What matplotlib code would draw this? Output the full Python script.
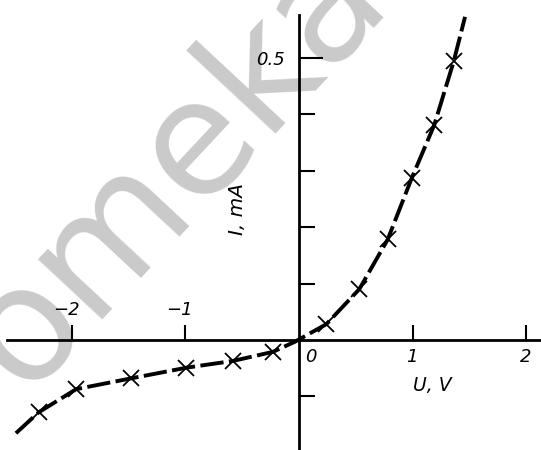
import matplotlib
matplotlib.use("Agg")
import matplotlib.pyplot as plt

# measured points of the I-V curve (U in volts, I in mA)
u_pts = [-2.29, -1.96, -1.48, -0.99, -0.58, -0.23, 0.24, 0.53, 0.78, 0.99, 1.19, 1.36]
i_pts = [-0.128, -0.087, -0.068, -0.049, -0.037, -0.021, 0.028, 0.090, 0.178, 0.286, 0.381, 0.493]

# where the drawn curve starts, crosses near the origin, and ends
u_start, i_start = -2.49, -0.165
u_cross, i_cross = -0.035, -0.003
u_end, i_end = 1.46, 0.572

x_ticks = [-2, -1, 1, 2]
x_tick_labels = ["\u22122", "\u22121", "1", "2"]
y_minor_ticks = [-0.1, 0.1, 0.2, 0.3, 0.4]
y_major_ticks = [0.5]
y_tick_labels = ["0.5"]

line_u = [u_start] + u_pts[:6] + [u_cross] + u_pts[6:] + [u_end]
line_i = [i_start] + i_pts[:6] + [i_cross] + i_pts[6:] + [i_end]

fig = plt.figure(figsize=(5.41, 4.5), dpi=100)
ax = fig.add_axes([0, 0, 1, 1])
ax.set_xlim(-2.630, 2.128)
ax.set_ylim(-0.1947, 0.6018)

# watermark in the background
ax.text(0.044, 0.124, "omeka", transform=ax.transAxes, rotation=47,
        rotation_mode="anchor", ha="left", va="baseline",
        fontsize=115, color="#cacaca", zorder=0)

# axes crossing at the origin
for side in ["top", "right"]:
    ax.spines[side].set_visible(False)
ax.spines["left"].set_position(("data", 0))
ax.spines["bottom"].set_position(("data", 0))
ax.spines["left"].set_bounds(-0.1947, 0.575)
ax.spines["bottom"].set_bounds(-2.566, 2.128)
for side in ["left", "bottom"]:
    ax.spines[side].set_linewidth(2.0)
    ax.spines[side].set_zorder(3)

ax.set_xticks(x_ticks)
ax.set_xticklabels([])
ax.tick_params(axis="x", direction="in", length=10.8, width=1.5)

ax.set_yticks(y_major_ticks)
ax.set_yticklabels(y_tick_labels, fontsize=13, style="italic")
ax.set_yticks(y_minor_ticks, minor=True)
ax.tick_params(axis="y", which="major", direction="in", length=17, width=1.5, pad=10)
ax.tick_params(axis="y", which="minor", direction="in", length=11.5, width=1.5)

# x tick labels: negative ones above the axis, positive ones below
for t, lab in zip(x_ticks, x_tick_labels):
    off = (-4, 21.5) if t < 0 else (-0.5, -12)
    ax.annotate(lab, xy=(t, 0), xytext=off, textcoords="offset points",
                ha="center", va="center", fontsize=13, style="italic")
ax.annotate("0", xy=(0, 0), xytext=(8.6, -12), textcoords="offset points",
            ha="center", va="center", fontsize=13, style="italic")

ax.annotate("U, V", xy=(0, 0), xytext=(96, -33), textcoords="offset points",
            ha="center", va="center", fontsize=13.5, style="italic")
ax.annotate("I, mA", xy=(0, 0), xytext=(-44, 94), textcoords="offset points",
            ha="center", va="center", fontsize=14.5, style="italic", rotation=90)

# the curve and the measured points
ax.plot(line_u, line_i, color="black", lw=2.8, dashes=(6, 1.4),
        solid_capstyle="butt", zorder=4)
ax.plot(u_pts, i_pts, linestyle="none", marker="x", markersize=11,
        markeredgewidth=1.3, color="black", zorder=5)

fig.savefig("out.png", dpi=100)
